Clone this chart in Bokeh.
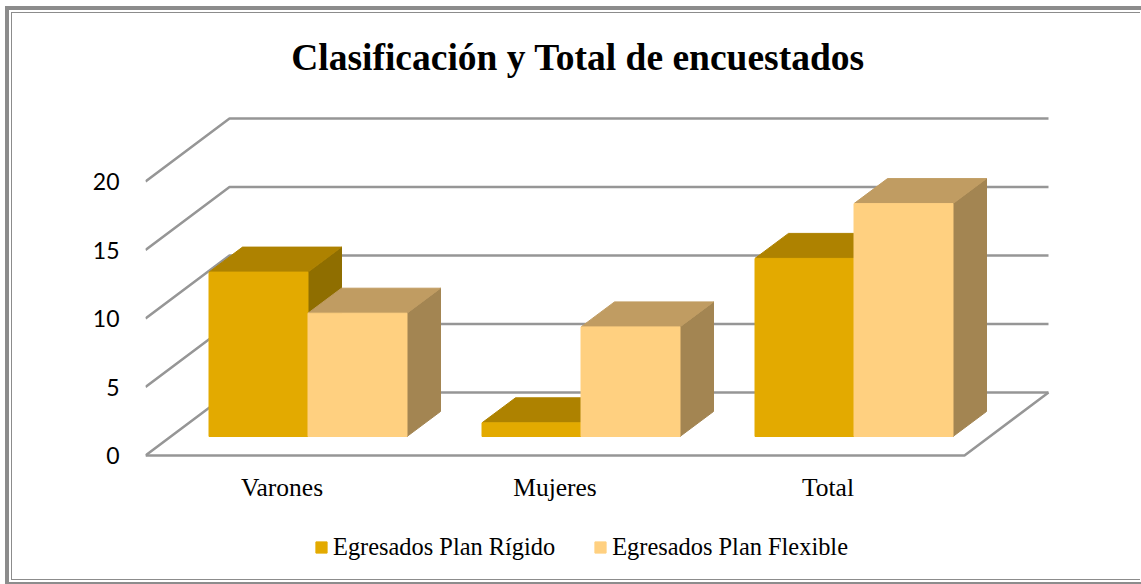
from bokeh.embed import file_html
from bokeh.resources import INLINE
from bokeh.plotting import figure
from bokeh.models import (Range1d, FixedTicker, Legend, LegendItem, ColumnDataSource, Label)

categories = ["Varones", "Mujeres", "Total"]
series_names = ["Egresados Plan Rígido", "Egresados Plan Flexible"]
plan_rigido = [12, 1, 13]
plan_flexible = [9, 8, 17]
y_ticks = [0, 5, 10, 15, 20]
chart_title = "Clasificación y Total de encuestados"

FONT_SERIF = "Liberation Serif"
FONT_AXIS = "Lato"
GRID = "#969696"

# 3-D projection, expressed in data units
PX_X, PX_Y = 273.0, 13.7
WALL_DX, WALL_DY = 84.0 / PX_X, 63.0 / PX_Y
BASE_DX, BASE_DY = 26.0 / PX_X, 19.0 / PX_Y
BAR_DX, BAR_DY = 33.5 / PX_X, 25.0 / PX_Y
BAR_W = 99.0 / PX_X

FRAME_W, ABOVE_ZERO, BELOW_ZERO = 905, 442, 126
p = figure(width=1129, height=568, output_backend="svg", toolbar_location=None,
           x_range=Range1d(0, FRAME_W / PX_X),
           y_range=Range1d(-BELOW_ZERO / PX_Y, ABOVE_ZERO / PX_Y),
           min_border_left=133, min_border_right=91, min_border_top=0, min_border_bottom=0,
           background_fill_color="white", border_fill_color="white", outline_line_color=None)
p.styles = {"margin-left": "11px", "margin-top": "12px",
            "border-left": "1px solid #8c8c8c", "border-top": "1px solid #8c8c8c",
            "border-bottom": "1px solid #8c8c8c",
            "outline": "4px solid #8c8c8c", "outline-offset": "2px"}
p.grid.visible = False

# title
p.add_layout(Label(x=432.5 / PX_X, y=398.0 / PX_Y, text=chart_title, text_align="center",
                   text_baseline="alphabetic", text_font=FONT_SERIF, text_font_size="37.5px",
                   text_font_style="bold", text_color="#000000"))

# axes
n = len(categories)
xa = p.xaxis[0]
xa.fixed_location = 0
xa.ticker = FixedTicker(ticks=[i + 0.5 for i in range(n)])
xa.major_label_overrides = {i + 0.5: c for i, c in enumerate(categories)}
xa.major_label_text_font = FONT_SERIF
xa.major_label_text_font_size = "25.5px"
xa.major_label_text_color = "#000000"
xa.major_label_standoff = 11
xa.axis_line_color = None
xa.major_tick_line_color = None
xa.minor_tick_line_color = None

ya = p.yaxis[0]
ya.ticker = FixedTicker(ticks=y_ticks)
ya.major_label_text_font = FONT_AXIS
ya.major_label_text_font_size = "23px"
ya.major_label_text_color = "#000000"
ya.major_label_standoff = 20
ya.axis_line_color = None
ya.major_tick_line_color = None
ya.minor_tick_line_color = None

# walls: side and back gridlines, floor
gx, gy = [], []
for t in y_ticks:
    gx.append([0, WALL_DX, n + WALL_DX])
    gy.append([t, t + WALL_DY, t + WALL_DY])
gx.append([0, n, n + WALL_DX])
gy.append([0, 0, WALL_DY])
p.multi_line(gx, gy, line_color=GRID, line_width=2.5)


def draw_series(values, offset, front, top, side):
    lefts = [i + 0.5 + BASE_DX + offset * BAR_W for i in range(n)]
    rights = [l + BAR_W for l in lefts]
    bottom = BASE_DY
    tops = [bottom + v for v in values]
    side_x = [[r, r + BAR_DX, r + BAR_DX, r] for r in rights]
    side_y = [[bottom, bottom + BAR_DY, t + BAR_DY, t] for t in tops]
    top_x = [[l, l + BAR_DX, r + BAR_DX, r] for l, r in zip(lefts, rights)]
    top_y = [[t, t + BAR_DY, t + BAR_DY, t] for t in tops]
    p.patches(side_x, side_y, fill_color=side, line_color=side, line_width=1)
    p.patches(top_x, top_y, fill_color=top, line_color=top, line_width=1)
    src = ColumnDataSource(dict(l=lefts, r=rights, t=tops, b=[bottom] * n))
    return p.quad(left="l", right="r", top="t", bottom="b", source=src,
                  fill_color=front, line_color=front, line_width=1)


r1 = draw_series(plan_rigido, -1, "#E3AA00", "#AE8200", "#8F6E00")
r2 = draw_series(plan_flexible, 0, "#FFD080", "#C09C62", "#A38552")

# legend
legend = Legend(items=[LegendItem(label=series_names[0], renderers=[r1]),
                       LegendItem(label=series_names[1], renderers=[r2])],
                orientation="horizontal", location=(169, 20),
                background_fill_alpha=0, border_line_color=None,
                padding=0, margin=0, spacing=38,
                glyph_width=14, glyph_height=14, label_standoff=5,
                label_text_font=FONT_SERIF, label_text_font_size="24.4px", label_text_color="#000000")
p.add_layout(legend, "center")

open("out.html", "w").write(file_html(p, INLINE))
